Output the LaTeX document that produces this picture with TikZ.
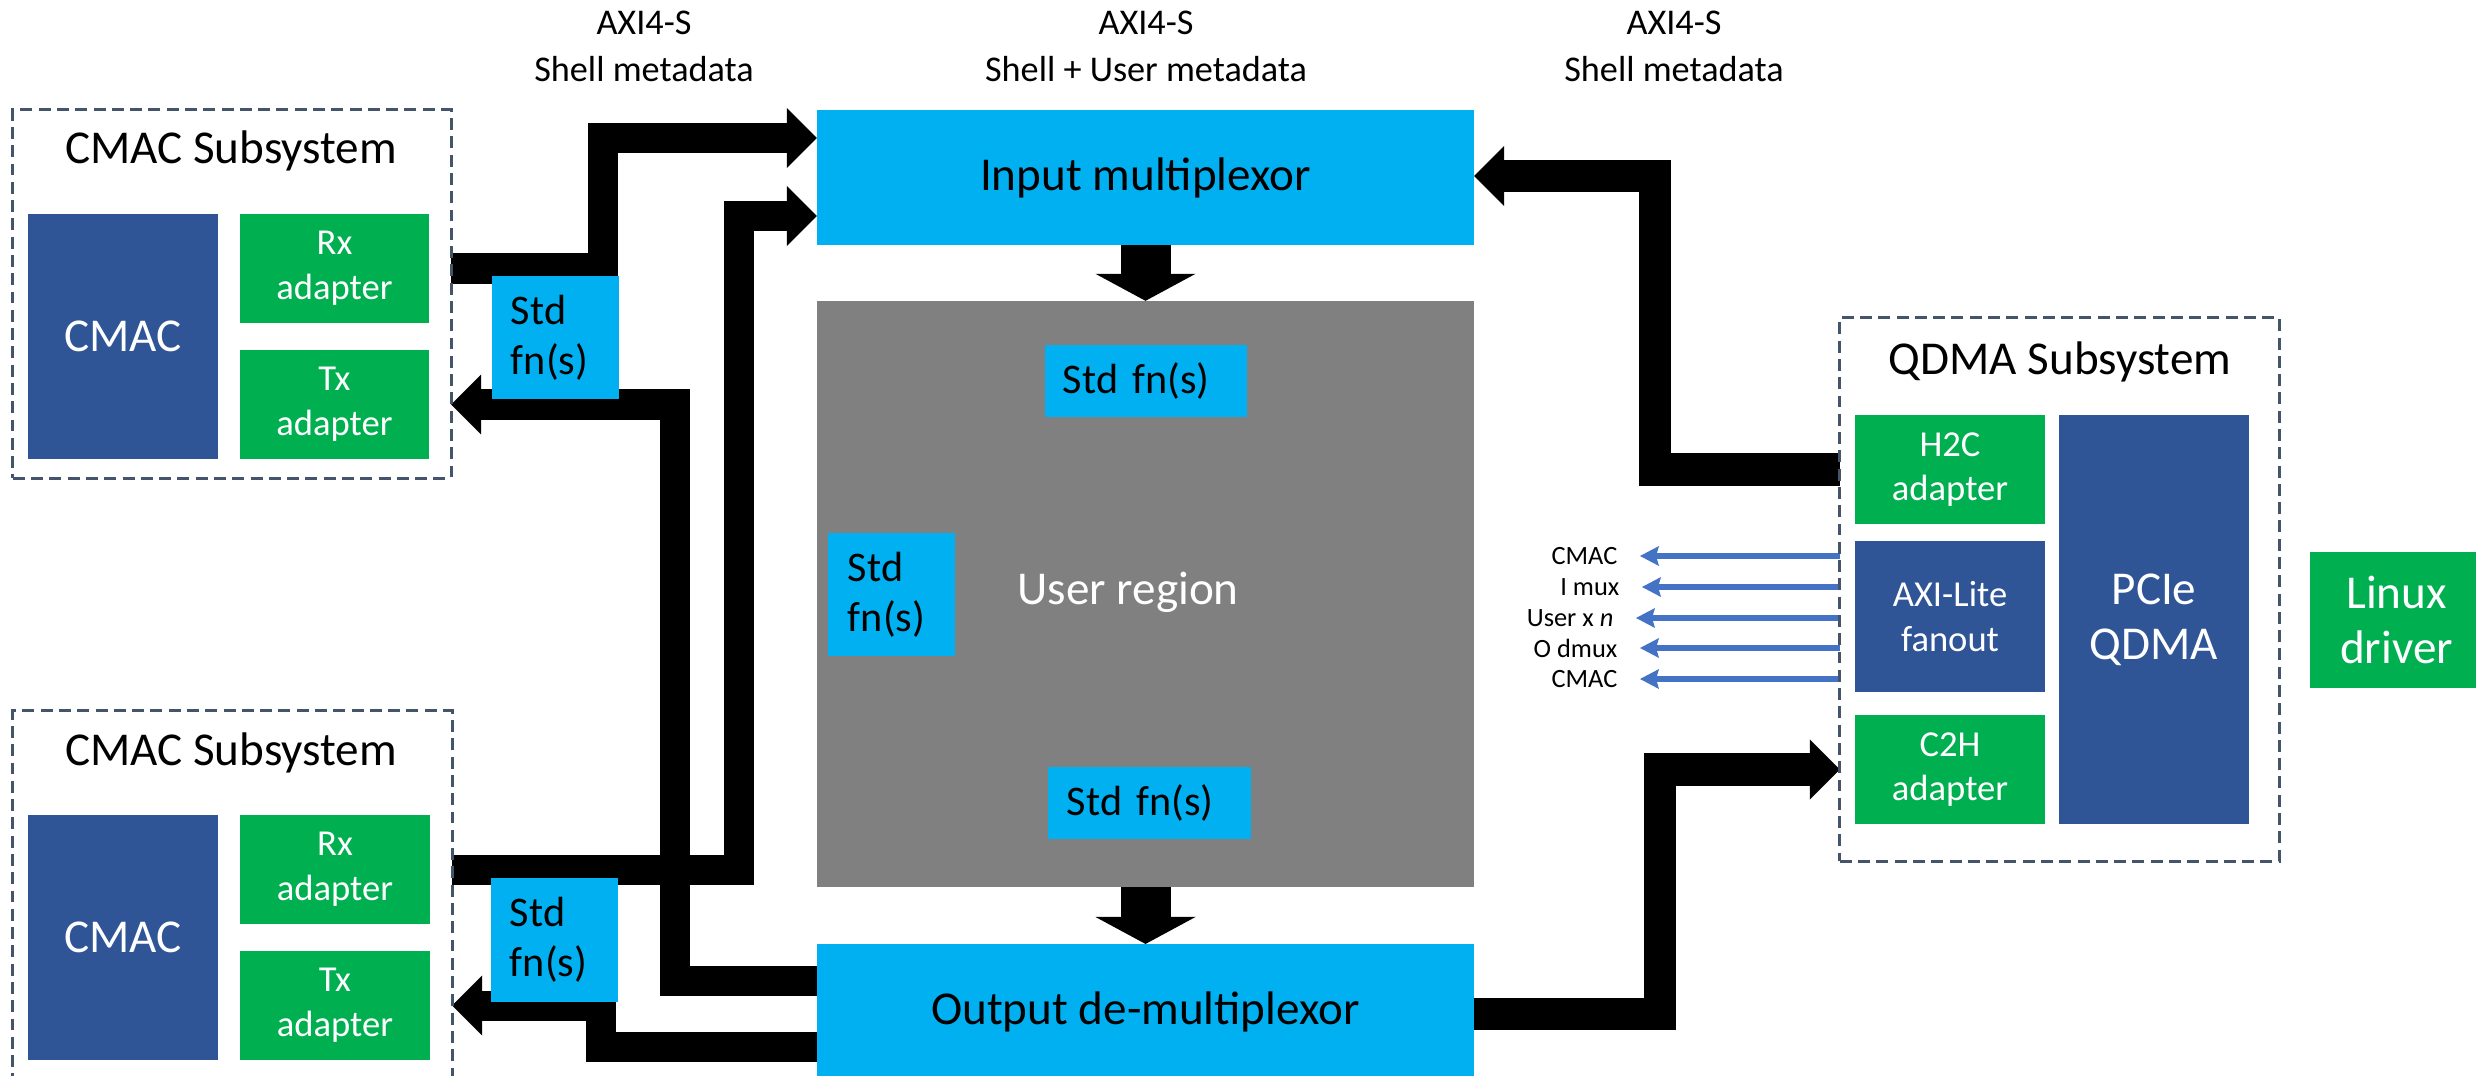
\documentclass[tikz,border=0pt]{standalone}
\usepackage{fontspec}
\setmainfont{Carlito}
\usetikzlibrary{arrows.meta}

\definecolor{cyanbox}{HTML}{00B0F0}
\definecolor{greenbox}{HTML}{00B050}
\definecolor{navybox}{HTML}{2F5597}
\definecolor{regiongray}{HTML}{808080}
\definecolor{dashgray}{HTML}{44546A}
\definecolor{linkblue}{HTML}{4472C4}

\newcommand\szBig{\fontsize{13.4pt}{15.6pt}\selectfont}
\newcommand\szMid{\fontsize{12pt}{14.2pt}\selectfont}
\newcommand\szSmall{\fontsize{10.4pt}{12.7pt}\selectfont}
\newcommand\szTop{\fontsize{10.3pt}{12.4pt}\selectfont}
\newcommand\szTiny{\fontsize{7.5pt}{9pt}\selectfont}

\pgfdeclarelayer{paper}
\pgfdeclarelayer{wires}
\pgfsetlayers{paper,wires,main}

\begin{document}
\begin{tikzpicture}[x=0.01cm, y=-0.01cm,
  blk/.style={inner sep=0pt, outer sep=0pt, align=center},
  subsys/.style={blk, draw=dashgray, line width=0.85pt, dash pattern=on 3.4pt off 1.8pt},
  cmacblk/.style={blk, fill=navybox, text=white, font=\szBig},
  adapt/.style={blk, fill=greenbox, text=white, font=\szSmall},
  stdfn/.style={blk, fill=cyanbox, text=black, font=\szMid, align=left},
  muxblk/.style={blk, fill=cyanbox, text=black, font=\szBig, minimum width=6.57cm, minimum height=1.35cm},
  title/.style={inner sep=0pt, font=\szBig, anchor=base},
  toplbl/.style={inner sep=0pt, font=\szTop, anchor=base},
  siglbl/.style={inner sep=0pt, font=\szTiny, anchor=east},
  busL/.style={line width=0.3cm, line join=miter,
    -{Triangle[width=0.6cm, length=0.3cm, line width=0pt]}},
  busR/.style={line width=0.32cm, line join=miter,
    -{Triangle[width=0.6cm, length=0.3cm, line width=0pt]}},
  flow/.style={line width=0.5cm,
    -{Triangle[width=1.0cm, length=0.27cm, line width=0pt]}},
  sig/.style={draw=linkblue, line width=1.75pt, shorten >=0.22cm,
    -{Stealth[width=0.2cm, length=0.19cm, inset=0.03cm, line width=0pt]}}
]
\useasboundingbox (0,0) rectangle (2476,1076);
\begin{pgfonlayer}{paper}
  \fill[white] (0,0) rectangle (2476,1076);
\end{pgfonlayer}

% ---- stream labels along the top
\node[toplbl] (axiA) at (644,35) {AXI4-S};
\node[toplbl] (metaA) at (644,82) {Shell metadata};
\node[toplbl] (axiB) at (1146,35) {AXI4-S};
\node[toplbl] (metaB) at (1146,82) {Shell + User metadata};
\node[toplbl] (axiC) at (1674,35) {AXI4-S};
\node[toplbl] (metaC) at (1674,82) {Shell metadata};

% ---- upper CMAC subsystem
\node[subsys, minimum width=4.38cm, minimum height=3.68cm] (sub1) at (232,294) {};
\node[title] (sub1t) at (231,164) {CMAC Subsystem};
\node[cmacblk, minimum width=1.9cm, minimum height=2.45cm] (cmac1) at (123,336.5) {CMAC};
\node[adapt, minimum width=1.89cm, minimum height=1.09cm] (rx1) at (334.5,268.5) {Rx\\adapter};
\node[adapt, minimum width=1.89cm, minimum height=1.09cm] (tx1) at (334.5,404.5) {Tx\\adapter};
\node[stdfn, minimum width=1.27cm, minimum height=1.23cm, text width=0.89cm] (std1) at (555.5,337.5) {Std\\fn(s)};

% ---- lower CMAC subsystem (runs off the lower edge)
\node[subsys, minimum width=4.39cm, minimum height=3.68cm] (sub2) at (232.5,895) {};
\node[title] (sub2t) at (231,765) {CMAC Subsystem};
\node[cmacblk, minimum width=1.9cm, minimum height=2.45cm] (cmac2) at (123,937.5) {CMAC};
\node[adapt, minimum width=1.9cm, minimum height=1.09cm] (rx2) at (335,869.5) {Rx\\adapter};
\node[adapt, minimum width=1.9cm, minimum height=1.09cm] (tx2) at (335,1005.5) {Tx\\adapter};
\node[stdfn, minimum width=1.27cm, minimum height=1.23cm, text width=0.89cm] (std2) at (554.5,940) {Std\\fn(s)};

% ---- shell datapath and user region
\node[muxblk] (imux) at (1145.5,177.5) {Input multiplexor};
\node[blk, fill=regiongray, minimum width=6.57cm, minimum height=5.86cm] (user) at (1145.5,594) {};
\node[inner sep=0pt, font=\szBig, text=white] (usert) at (1128,592) {User region};
\node[stdfn, minimum width=2.02cm, minimum height=0.72cm, text width=1.66cm] (stdU1) at (1146,381) {Std fn(s)};
\node[stdfn, minimum width=1.27cm, minimum height=1.23cm, text width=0.87cm] (stdU2) at (891.5,594.5) {Std\\fn(s)};
\node[stdfn, minimum width=2.03cm, minimum height=0.72cm, text width=1.65cm] (stdU3) at (1149.5,803) {Std fn(s)};
\node[muxblk] (odmux) at (1145.5,1011.5) {Output de-multiplexor};

% ---- QDMA subsystem and host side
\node[subsys, minimum width=4.39cm, minimum height=5.43cm] (qsub) at (2059.5,589.5) {};
\node[title] (qsubt) at (2060,374) {QDMA Subsystem};
\node[adapt, minimum width=1.9cm, minimum height=1.09cm] (h2c) at (1950,469.5) {H2C\\adapter};
\node[blk, fill=navybox, text=white, font=\szSmall, minimum width=1.9cm, minimum height=1.51cm] (axil) at (1950,616.5) {AXI-Lite\\fanout};
\node[adapt, minimum width=1.9cm, minimum height=1.09cm] (c2h) at (1950,769.5) {C2H\\adapter};
\node[cmacblk, minimum width=1.9cm, minimum height=4.09cm] (pcie) at (2154,619.5) {PCIe\\QDMA};
\node[blk, fill=greenbox, text=white, font=\szBig, minimum width=1.73cm, minimum height=1.36cm] (linux) at (2396.5,620) {Linux\\driver};

% ---- AXI-Lite fanout targets
\node[siglbl] (lcmac1) at (1618,556) {CMAC};
\node[siglbl] (limux) at (1620,587) {I mux};
\node[siglbl] (luser) at (1614,618) {User x \textit{n}};
\node[siglbl] (lodmux) at (1618,648) {O dmux};
\node[siglbl] (lcmac2) at (1618,679) {CMAC};

\begin{pgfonlayer}{wires}
  % streams into the input multiplexor
  \draw[busL] (sub1.east |- rx1.east) -| (602.5,138) -- (imux.west |- 0,138);
  \draw[busL] (sub2.east |- rx2.east) -| (738.5,216) -- (imux.west |- 0,216);
  \draw[busR] (qsub.west |- h2c.west) -| (1655,176) -- (imux.east |- 0,176);
  % streams out of the output de-multiplexor
  \draw[busL] (odmux.west |- 0,981) -| (674.5,404.5) -- (sub1.east |- tx1.east);
  \draw[busL] (odmux.west |- 0,1046.5) -| (600.5,1005.5) -- (sub2.east |- tx2.east);
  \draw[busR] (odmux.east |- 0,1014) -| (1660,769.5) -- (qsub.west |- c2h.west);
  % through the user region
  \draw[flow] (imux.south) -- (user.north);
  \draw[flow] (user.south) -- (odmux.north);
  % control fanout
  \draw[sig] (qsub.west |- lcmac1.east) -- (1640,556 -| lcmac1.east);
  \draw[sig] (qsub.west |- limux.east) -- (limux.east);
  \draw[sig] (qsub.west |- luser.east) -- (1640,618 -| luser.east);
  \draw[sig] (qsub.west |- lodmux.east) -- (lodmux.east);
  \draw[sig] (qsub.west |- lcmac2.east) -- (lcmac2.east);
\end{pgfonlayer}
\end{tikzpicture}
\end{document}
